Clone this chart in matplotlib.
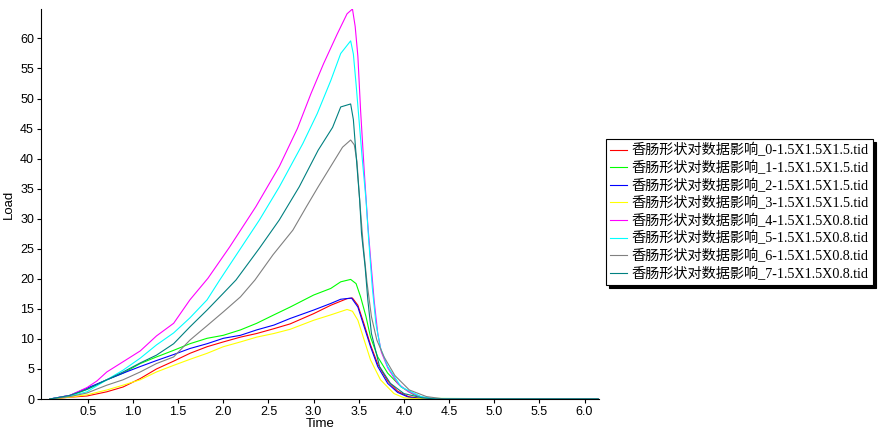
import matplotlib
matplotlib.use("Agg")
import matplotlib.pyplot as plt

# load curves (time, load) per test file
x0 = [0.08, 0.3, 0.49, 0.71, 0.89, 1.08, 1.26, 1.45, 1.63, 1.82, 2.0, 2.19, 2.37, 2.56, 2.74,
      3.0, 3.19, 3.37, 3.43, 3.49, 3.56, 3.63, 3.71, 3.82, 3.93, 4.05, 4.2, 6.15]
y0 = [0, 0.3, 0.5, 1.2, 2.0, 3.4, 5.0, 6.3, 7.6, 8.7, 9.5, 10.3, 10.9, 11.7, 12.5,
      14.2, 15.6, 16.7, 16.8, 15.6, 12.4, 9.0, 5.8, 3.0, 1.3, 0.4, 0.05, 0]

x1 = [0.08, 0.3, 0.49, 0.71, 0.89, 1.08, 1.26, 1.45, 1.63, 1.82, 2.0, 2.19, 2.37, 2.56, 2.74,
      3.0, 3.19, 3.3, 3.41, 3.47, 3.52, 3.58, 3.63, 3.71, 3.82, 3.97, 4.11, 4.25, 6.15]
y1 = [0, 0.5, 1.6, 3.2, 4.3, 5.9, 7.0, 8.1, 9.2, 10.1, 10.6, 11.5, 12.6, 14.0, 15.3,
      17.3, 18.4, 19.5, 19.9, 19.2, 17.0, 13.7, 10.3, 7.0, 4.3, 2.0, 0.7, 0.1, 0]

x2 = [0.08, 0.3, 0.49, 0.71, 0.89, 1.08, 1.26, 1.45, 1.63, 1.82, 2.0, 2.19, 2.37, 2.56, 2.74,
      3.0, 3.19, 3.3, 3.42, 3.49, 3.56, 3.63, 3.71, 3.82, 3.93, 4.05, 4.2, 6.15]
y2 = [0, 0.6, 1.8, 3.2, 4.3, 5.4, 6.4, 7.4, 8.4, 9.2, 10.1, 10.6, 11.5, 12.3, 13.4,
      14.8, 15.9, 16.6, 16.8, 15.3, 12.0, 8.7, 5.4, 2.6, 1.1, 0.3, 0.05, 0]

x3 = [0.08, 0.3, 0.49, 0.71, 0.89, 1.08, 1.26, 1.45, 1.63, 1.82, 2.0, 2.19, 2.37, 2.56, 2.74,
      3.0, 3.19, 3.37, 3.43, 3.49, 3.56, 3.63, 3.74, 3.89, 4.0, 4.15, 6.15]
y3 = [0, 0.3, 0.7, 1.5, 2.3, 3.2, 4.5, 5.6, 6.6, 7.6, 8.7, 9.5, 10.3, 10.9, 11.6,
      13.1, 14.0, 14.9, 14.6, 13.1, 9.8, 6.5, 3.2, 0.9, 0.2, 0.05, 0]

x4 = [0.08, 0.3, 0.49, 0.6, 0.71, 0.89, 1.08, 1.26, 1.45, 1.63, 1.83, 2.07, 2.36, 2.62, 2.82,
      2.97, 3.11, 3.26, 3.37, 3.43, 3.46, 3.49, 3.52, 3.56, 3.6, 3.63, 3.67, 3.71, 3.75, 3.82,
      3.93, 4.05, 4.2, 4.35, 6.15]
y4 = [0, 0.6, 1.9, 3.0, 4.5, 6.2, 8.0, 10.5, 12.6, 16.5, 20.1, 25.3, 32.0, 38.7, 45.0,
      50.8, 55.8, 60.7, 64.1, 64.9, 62.0, 57.0, 48.0, 38.0, 29.0, 23.5, 16.4, 10.9, 7.8, 5.2,
      2.6, 1.2, 0.3, 0.0, 0]

x5 = [0.08, 0.3, 0.49, 0.71, 0.89, 1.08, 1.26, 1.45, 1.63, 1.82, 1.96, 2.18, 2.4, 2.62, 2.88,
      3.04, 3.19, 3.3, 3.41, 3.44, 3.47, 3.5, 3.54, 3.58, 3.61, 3.65, 3.69, 3.74, 3.82, 3.97,
      4.19, 4.35, 6.15]
y5 = [0, 0.5, 1.2, 3.2, 4.8, 6.8, 9.0, 11.0, 13.5, 16.5, 19.8, 24.8, 29.8, 35.3, 42.5,
      47.5, 53.0, 57.5, 59.6, 57.4, 52.4, 46.9, 39.7, 33.1, 26.4, 18.5, 12.5, 8.5, 5.4, 2.0,
      0.4, 0.0, 0]

x6 = [0.08, 0.3, 0.49, 0.71, 0.89, 1.08, 1.26, 1.45, 1.63, 1.82, 2.0, 2.19, 2.35, 2.55, 2.77,
      2.92, 3.05, 3.23, 3.32, 3.41, 3.45, 3.48, 3.51, 3.55, 3.59, 3.64, 3.7, 3.78, 3.9, 4.06,
      4.25, 4.45, 6.15]
y6 = [0, 0.4, 1.0, 2.3, 3.2, 4.5, 5.9, 7.0, 9.8, 12.2, 14.5, 17.0, 19.8, 24.0, 28.1,
      32.0, 35.3, 39.7, 41.9, 43.1, 42.3, 39.5, 33.0, 25.5, 19.5, 13.7, 9.8, 7.0, 3.9, 1.5,
      0.4, 0.0, 0]

x7 = [0.08, 0.3, 0.49, 0.71, 0.89, 1.08, 1.26, 1.45, 1.63, 1.82, 2.0, 2.14, 2.4, 2.62, 2.84,
      3.05, 3.21, 3.3, 3.41, 3.44, 3.48, 3.51, 3.53, 3.57, 3.6, 3.64, 3.73, 3.85, 4.0, 4.2,
      4.35, 6.15]
y7 = [0, 0.6, 1.6, 3.2, 4.5, 6.0, 7.3, 9.2, 12.0, 14.8, 17.6, 19.8, 25.1, 29.8, 35.3,
      41.4, 45.2, 48.6, 49.1, 46.5, 38.7, 33.1, 27.6, 22.0, 16.5, 10.9, 5.4, 2.6, 0.9, 0.2,
      0.0, 0]

prefix = "香肠形状对数据影响_"
suffixes = ["0-1.5X1.5X1.5.tid", "1-1.5X1.5X1.5.tid", "2-1.5X1.5X1.5.tid",
            "3-1.5X1.5X1.5.tid", "4-1.5X1.5X0.8.tid", "5-1.5X1.5X0.8.tid",
            "6-1.5X1.5X0.8.tid", "7-1.5X1.5X0.8.tid"]
colors = ["#FF0000", "#00FF00", "#0000FF", "#FFFF00",
          "#FF00FF", "#00FFFF", "#808080", "#008080"]

xs = [x0, x1, x2, x3, x4, x5, x6, x7]
ys = [y0, y1, y2, y3, y4, y5, y6, y7]

fig = plt.figure(figsize=(8.81, 4.38), dpi=100)
ax = fig.add_axes([41 / 881, 1 - 399 / 438, 558 / 881, 390 / 438])

for x, y, c, s in zip(xs, ys, colors, suffixes):
    ax.plot(x, y, color=c, lw=0.8, label=prefix + s)

ax.set_xlim(-0.019, 6.16)
ax.set_ylim(0, 64.9)
ax.set_xticks([0.5 * i for i in range(1, 13)])
ax.set_yticks(range(0, 61, 5))
ax.spines["top"].set_visible(False)
ax.spines["right"].set_visible(False)
ax.tick_params(direction="out", length=3, width=0.8, labelsize=9, pad=2)
for lab in ax.get_xticklabels() + ax.get_yticklabels():
    lab.set_fontfamily("Liberation Sans")
ax.set_xlabel("Time", fontsize=9.5, family="Liberation Sans", labelpad=0)
ax.set_ylabel("Load", fontsize=9.5, family="Liberation Sans", labelpad=4)

leg = ax.legend(loc="upper left", bbox_to_anchor=(606 / 881, 1 - 139 / 438),
                bbox_transform=fig.transFigure, borderaxespad=0,
                prop={"family": ["Liberation Serif", "Noto Sans CJK SC"], "size": 10.2},
                frameon=True, fancybox=False, shadow={"color": "black", "alpha": 1},
                handlelength=1.2, handletextpad=0.3, labelspacing=0.24, borderpad=0.3)
leg.get_frame().set_edgecolor("black")
leg.get_frame().set_linewidth(0.8)

fig.savefig("out.png", dpi=100)
